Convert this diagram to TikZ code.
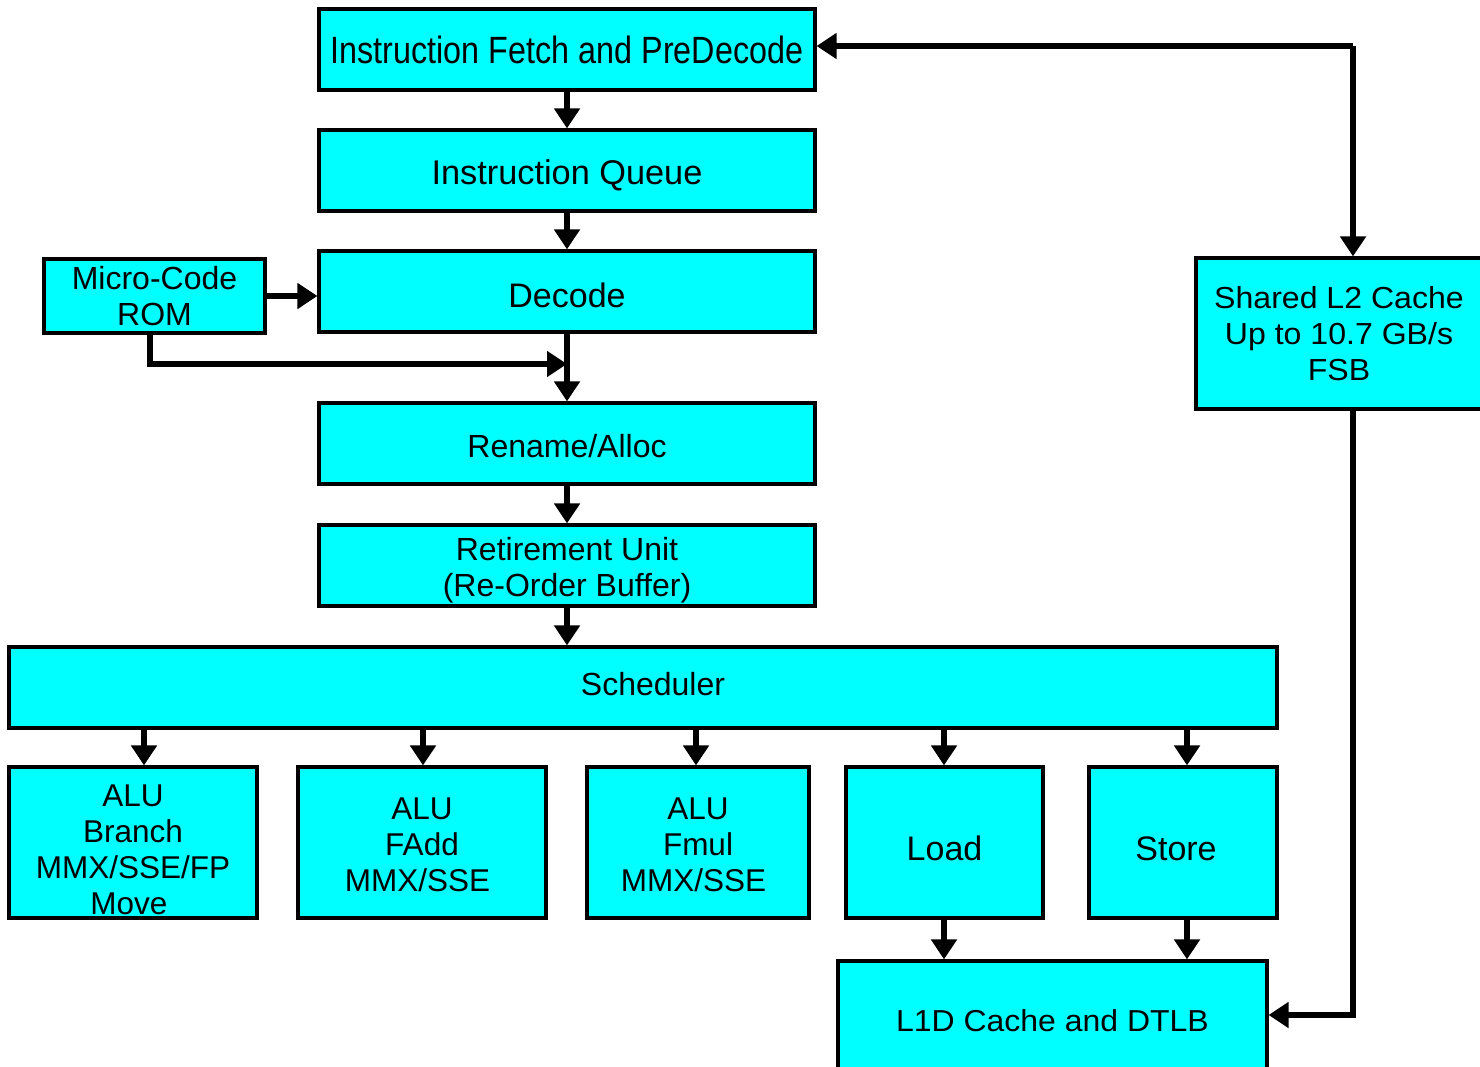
\documentclass[tikz,border=0pt]{standalone}
\usepackage{fontspec}
\usetikzlibrary{arrows.meta}
\newfontfamily\boxfont{Liberation Sans}
\newfontfamily\narrowfont{Liberation Sans}[FakeStretch=0.85]
\newfontfamily\widefont{Liberation Sans}[FakeStretch=1.055]
\definecolor{boxcyan}{HTML}{00FFFF}
% invisible struts that set the height / depth of a text line
\newcommand\htstrut[1]{\rule{0pt}{#1}}
\newcommand\dpstrut[1]{\rule[-#1]{0pt}{#1}}
\newcommand\padr[1][9pt]{\hspace*{#1}}
\begin{document}
\begin{tikzpicture}[x=1pt,y=-1pt,
  blk/.style={draw=black, line width=3.2pt, fill=boxcyan, rectangle, inner sep=0pt,
    align=center, font=\boxfont\fontsize{32}{36}\selectfont},
  fs/.style={font=\boxfont\fontsize{#1}{36}\selectfont},
  wfs/.style={font=\widefont\fontsize{#1}{36}\selectfont},
  arr/.style={line width=6.5pt, -{Triangle[length=20pt,width=25pt]}}]
\useasboundingbox (0,0) rectangle (1480,1066);
\clip (0,0) rectangle (1480,1066);

% front end
\node[blk, font=\narrowfont\fontsize{38}{36}\selectfont, minimum width=496pt, minimum height=81pt] (fetch) at (567,49.5) {Instruction Fetch and PreDecode};
\node[blk, fs=34.3, minimum width=496pt, minimum height=81pt] (queue) at (567,170.5) {\htstrut{34pt}Instruction Queue};
\node[blk, fs=34, minimum width=496pt, minimum height=81pt] (decode) at (567,291.5) {\htstrut{32pt}Decode};
\node[blk, fs=32, minimum width=221pt, minimum height=74pt] (rom) at (154.5,296) {Micro-Code\\ROM};
\node[blk, fs=32, minimum width=496pt, minimum height=81pt] (rename) at (567,443.5) {\htstrut{28.4pt}Rename/Alloc};
\node[blk, fs=32, minimum width=496pt, minimum height=81pt] (retire) at (567,565.5) {\htstrut{32.7pt}Retirement Unit\\(Re-Order Buffer)};

% back end
\node[blk, fs=32, minimum width=1268pt, minimum height=81pt] (sched) at (643,687.5) {\hspace*{20pt}Scheduler\dpstrut{8pt}};
\node[blk, fs=31.5, minimum width=248pt, minimum height=151pt] (alua) at (133,842.5) {\htstrut{35.6pt}ALU\\Branch\\MMX/SSE/FP\\Move\padr[8pt]};
\node[blk, fs=31.5, minimum width=248pt, minimum height=151pt] (alub) at (422,842.5) {\htstrut{26pt}ALU\\FAdd\\MMX/SSE\padr};
\node[blk, fs=31.5, minimum width=222pt, minimum height=151pt] (aluc) at (698,842.5) {\htstrut{26pt}ALU\\Fmul\\MMX/SSE\padr};
\node[blk, fs=34, minimum width=197pt, minimum height=151pt] (load) at (944.5,842.5) {\htstrut{36pt}Load};
\node[blk, fs=34, minimum width=188pt, minimum height=151pt] (store) at (1183,842.5) {\htstrut{36pt}Store\hspace*{14pt}};
\node[blk, wfs=30.3, minimum width=429pt, minimum height=119pt] (l1d) at (1052.5,1020.5) {L1D Cache and DTLB};
\node[blk, wfs=30.4, minimum width=286pt, minimum height=151pt] (l2) at (1339,333.5) {Shared L2 Cache\\Up to 10.7 GB/s\\FSB};

% pipeline flow
\draw[arr] (fetch) -- (queue);
\draw[arr] (queue) -- (decode);
\draw[arr] (rom.east) -- (rom.east -| decode.west);
\coordinate (merge) at (567,364);
\draw[arr] (decode) -- (rename);
\draw[arr] (rom.south -| 150,0) |- (merge);
\draw[arr] (rename) -- (retire);
\draw[arr] (retire) -- (sched.north -| retire);

% issue ports
\draw[arr] (sched.south -| 144,0) -- (alua.north -| 144,0);
\draw[arr] (sched.south -| 423,0) -- (alub.north -| 423,0);
\draw[arr] (sched.south -| 696,0) -- (aluc.north -| 696,0);
\draw[arr] (sched.south -| 944,0) -- (load.north -| 944,0);
\draw[arr] (sched.south -| 1187,0) -- (store.north -| 1187,0);
\draw[arr] (load.south -| 944,0) -- (l1d.north -| 944,0);
\draw[arr] (store.south -| 1187,0) -- (l1d.north -| 1187,0);

% L2 connections
\coordinate (up) at (1353,46);
\coordinate (down) at (1353,1015);
\draw[arr] (up) -- (fetch.east |- up);
\draw[arr] (up) -- (l2.north -| up);
\draw[arr] (l2.south -| down) -- (down) -- (l1d.east |- down);
\end{tikzpicture}
\end{document}
